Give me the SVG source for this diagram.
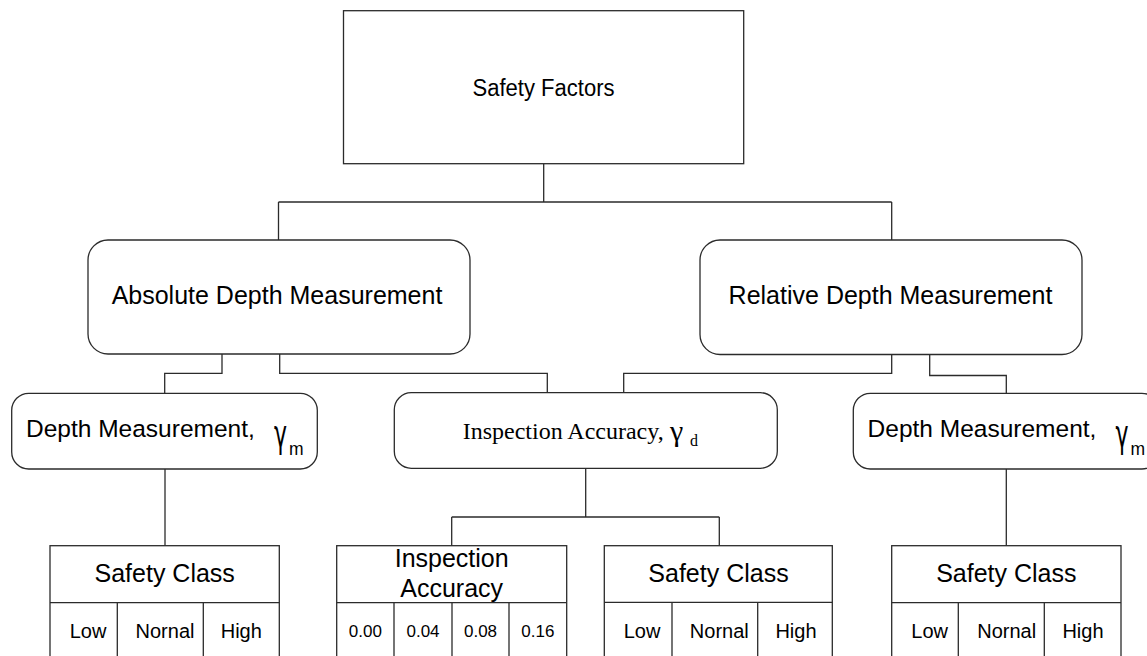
<svg xmlns="http://www.w3.org/2000/svg" width="1147" height="656" viewBox="0 0 1147 656">
  <style>
    .box { fill: #ffffff; stroke: #2b2b2b; stroke-width: 1.3; }
    .wire { fill: none; stroke: #2b2b2b; stroke-width: 1.3; }
    .sans { font-family: "Liberation Sans", Arial, sans-serif; fill: #000000; }
    .serif { font-family: "Liberation Serif", "Times New Roman", serif; fill: #000000; }
    .greek { font-family: "DejaVu Sans", sans-serif; fill: #000000; font-size: 22px; }
    .big { font-size: 25px; }
    .mid { font-size: 20px; }
    .small { font-size: 17px; }
    .c { text-anchor: middle; }
  </style>
  <rect width="1147" height="656" fill="#ffffff"/>

  <!-- connectors -->
  <g id="connectors">
    <path class="wire" d="M543.7 163.7 V202 M278.5 202 H891.7 M278.5 202 V240 M891.7 202 V240"/>
    <path class="wire" d="M222 354 V373.3 H164.7 V393"/>
    <path class="wire" d="M279.7 354 V373.3 H547.3 V393"/>
    <path class="wire" d="M891.7 354 V373.3 H623.7 V393"/>
    <path class="wire" d="M929.7 354 V375.5 H1006.3 V393"/>
    <path class="wire" d="M165 469 V545.7"/>
    <path class="wire" d="M585.7 468.3 V517 M451.7 517 H719.3 M451.7 517 V545.7 M719.3 517 V545.7"/>
    <path class="wire" d="M1006.3 469 V545.7"/>
  </g>

  <!-- root -->
  <g id="safety-factors">
    <rect class="box" x="343.5" y="10.7" width="400.2" height="153"/>
    <text class="sans c" x="543.5" y="95.7" font-size="23.5" textLength="142" lengthAdjust="spacingAndGlyphs">Safety Factors</text>
  </g>

  <g id="absolute-depth">
    <rect class="box" x="88" y="240" width="382" height="114" rx="20" ry="20"/>
    <text class="sans big c" x="277" y="304">Absolute Depth Measurement</text>
  </g>

  <g id="relative-depth">
    <rect class="box" x="700" y="240" width="382" height="114.5" rx="20" ry="20"/>
    <text class="sans big c" x="890.5" y="304.3">Relative Depth Measurement</text>
  </g>

  <g id="depth-measurement-left">
    <rect class="box" x="11.7" y="393.3" width="305.6" height="75.7" rx="17" ry="17"/>
    <text class="sans" x="26" y="437.3" font-size="24.5">Depth Measurement,</text>
    <text class="greek" transform="translate(274 447.3) scale(1 1.69)">γ</text>
    <text class="sans" x="289" y="455" font-size="17.5">m</text>
  </g>

  <g id="inspection-accuracy">
    <rect class="box" x="394.3" y="392.7" width="383" height="75.6" rx="17" ry="17"/>
    <text class="serif" x="462.7" y="439.3" font-size="24">Inspection Accuracy,</text>
    <text class="serif" x="670" y="441" font-size="30">γ</text>
    <text class="serif" x="690" y="446" font-size="16">d</text>
  </g>

  <g id="depth-measurement-right">
    <rect class="box" x="853.3" y="393.3" width="305.6" height="75.7" rx="17" ry="17"/>
    <text class="sans" x="867.6" y="437.3" font-size="24.5">Depth Measurement,</text>
    <text class="greek" transform="translate(1115.6 447.3) scale(1 1.69)">γ</text>
    <text class="sans" x="1130.6" y="455" font-size="17.5">m</text>
  </g>

  <!-- tables -->
  <g id="safety-class-left">
    <rect class="box" x="50" y="545.7" width="229.3" height="130"/>
    <path class="wire" d="M50 602.7 H279.3 M117.3 602.7 V676 M203.3 602.7 V676"/>
    <text class="sans big c" x="164.7" y="581.7">Safety Class</text>
    <text class="sans mid c" x="88" y="638.3">Low</text>
    <text class="sans mid c" x="165" y="638.3">Nornal</text>
    <text class="sans mid c" x="241.3" y="638.3">High</text>
  </g>

  <g id="inspection-accuracy-table">
    <rect class="box" x="336.7" y="545.7" width="230" height="130"/>
    <path class="wire" d="M336.7 602.7 H566.7 M394 602.7 V676 M452 602.7 V676 M509 602.7 V676"/>
    <text class="sans big c" x="451.7" y="567.3">Inspection</text>
    <text class="sans big c" x="451.7" y="597.3">Accuracy</text>
    <text class="sans small c" x="365.3" y="636.7">0.00</text>
    <text class="sans small c" x="423" y="636.7">0.04</text>
    <text class="sans small c" x="480.5" y="636.7">0.08</text>
    <text class="sans small c" x="537.8" y="636.7">0.16</text>
  </g>

  <g id="safety-class-middle">
    <rect class="box" x="604.3" y="545.7" width="228" height="130"/>
    <path class="wire" d="M604.3 602.3 H832.3 M672 602.3 V676 M757.7 602.3 V676"/>
    <text class="sans big c" x="718.5" y="581.7">Safety Class</text>
    <text class="sans mid c" x="642" y="638.3">Low</text>
    <text class="sans mid c" x="719.3" y="638.3">Nornal</text>
    <text class="sans mid c" x="796" y="638.3">High</text>
  </g>

  <g id="safety-class-right">
    <rect class="box" x="891.7" y="545.7" width="229.3" height="130"/>
    <path class="wire" d="M891.7 602.7 H1121 M958.3 602.7 V676 M1044.3 602.7 V676"/>
    <text class="sans big c" x="1006.3" y="581.7">Safety Class</text>
    <text class="sans mid c" x="929.7" y="638.3">Low</text>
    <text class="sans mid c" x="1006.7" y="638.3">Nornal</text>
    <text class="sans mid c" x="1083" y="638.3">High</text>
  </g>
</svg>
